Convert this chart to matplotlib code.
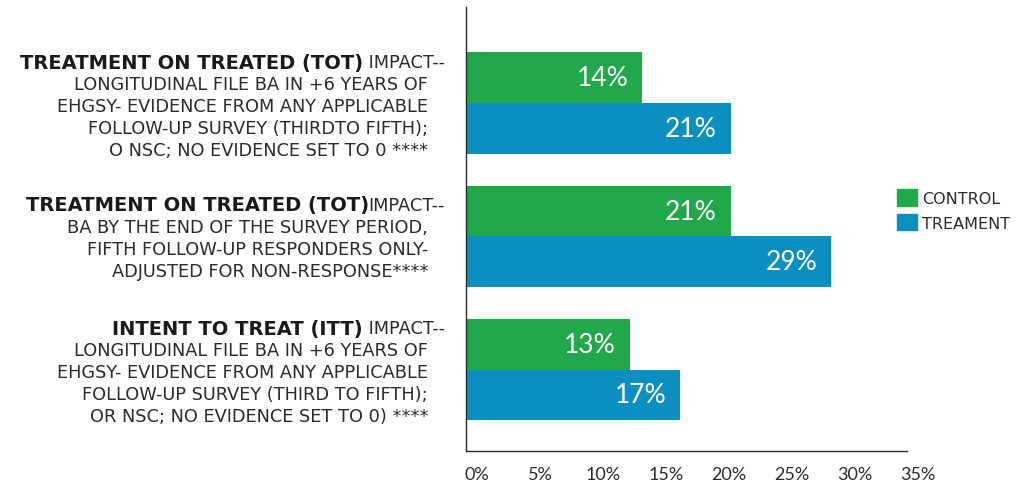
import matplotlib
matplotlib.use("Agg")
import matplotlib.pyplot as plt
import matplotlib.transforms as mtransforms
from matplotlib.patches import Patch

plt.rcParams['font.family'] = ['DejaVu Sans']

# values (percent)
control = [14, 21, 13]
treatment = [21, 29, 17]
series_names = ["CONTROL", "TREAMENT"]
bold_heads = ["TREATMENT ON TREATED (TOT)",
              "TREATMENT ON TREATED (TOT)",
              "INTENT TO TREAT (ITT)"]
first_tails = [" IMPACT--", "IMPACT--", " IMPACT--"]
rest_lines = [
    ["LONGITUDINAL FILE BA IN +6 YEARS OF",
     "EHGSY- EVIDENCE FROM ANY APPLICABLE",
     "FOLLOW-UP SURVEY (THIRDTO FIFTH);",
     "O NSC; NO EVIDENCE SET TO 0 ****"],
    ["BA BY THE END OF THE SURVEY PERIOD,",
     "FIFTH FOLLOW-UP RESPONDERS ONLY-",
     "ADJUSTED FOR NON-RESPONSE****"],
    ["LONGITUDINAL FILE BA IN +6 YEARS OF",
     "EHGSY- EVIDENCE FROM ANY APPLICABLE",
     "FOLLOW-UP SURVEY (THIRD TO FIFTH);",
     "OR NSC; NO EVIDENCE SET TO 0) ****"],
]
xticks = [0, 5, 10, 15, 20, 25, 30, 35]

green = "#20a84a"
blue = "#0a8fc0"
dark = "#2b2b2b"

W, H = 1016, 489
fig = plt.figure(figsize=(W / 100, H / 100), dpi=100)
ax = fig.add_axes([466 / W, 1 - 452 / H, (907 - 466) / W, (452 - 8) / H])

pos = list(range(len(control)))
bh = 0.38
ax.barh([p - bh / 2 for p in pos], control, height=bh, color=green)
ax.barh([p + bh / 2 for p in pos], treatment, height=bh, color=blue)

for p, c, t in zip(pos, control, treatment):
    ax.annotate(f"{c}%", (c, p - bh / 2), xytext=(-10, 0), textcoords="offset points",
                ha="right", va="center", color="white", fontsize=19, family="Lato")
    ax.annotate(f"{t}%", (t, p + bh / 2), xytext=(-10, 0), textcoords="offset points",
                ha="right", va="center", color="white", fontsize=19, family="Lato")

ax.set_xlim(0, 35)
ax.set_ylim(2.61, -0.72)
ax.set_yticks([])
ax.set_xticks(xticks)
ax.set_xticklabels([f"{v}%" for v in xticks], color=dark, fontsize=13, family="Lato")
ax.tick_params(axis="x", length=0, pad=11)
shift = mtransforms.ScaledTranslation(11 / 100, 0, fig.dpi_scale_trans)
for lab in ax.get_xticklabels():
    lab.set_transform(lab.get_transform() + shift)
for s in ["top", "right"]:
    ax.spines[s].set_visible(False)
for s in ["left", "bottom"]:
    ax.spines[s].set_color(dark)
    ax.spines[s].set_linewidth(1)

# category labels on the left
line_h = 22 / H
first_y = [63, 206, 329]
for head, tail, rest, y0 in zip(bold_heads, first_tails, rest_lines, first_y):
    yf = 1 - y0 / H
    t = fig.text(445 / W, yf, tail, ha="right", va="center", fontsize=12.8, color=dark)
    ax.annotate(head, xy=(0, 0.5), xycoords=t, ha="right", va="center",
                fontsize=14, fontweight="bold", color="#1a1a1a",
                annotation_clip=False)
    for i, line in enumerate(rest):
        fig.text(428 / W, yf - (i + 1) * line_h, line, ha="right", va="center",
                 fontsize=12.8, color=dark)

handles = [Patch(color=green), Patch(color=blue)]
fig.legend(handles, series_names, loc="center left",
           bbox_to_anchor=(883 / W, 1 - 211 / H), frameon=False,
           fontsize=11.5, handlelength=1.2, handleheight=1.2,
           handletextpad=0.35, labelspacing=0.5, labelcolor=dark)

fig.savefig("out.png", dpi=100)
